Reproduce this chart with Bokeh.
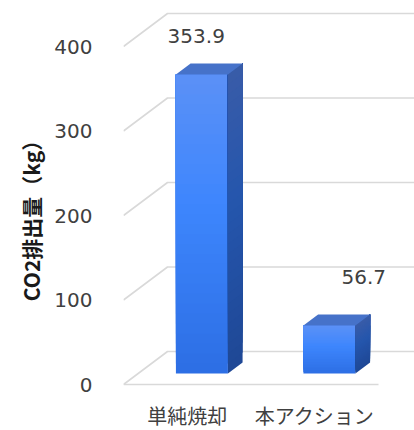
from bokeh.plotting import figure
from bokeh.models import Range1d, FixedTicker, ColumnDataSource
from bokeh.core.properties import value
from bokeh.embed import file_html
from bokeh.resources import INLINE

# ---------------- data ----------------
categories = ["単純焼却", "本アクション"]
emissions = [353.9, 56.7]
y_ticks = [0, 100, 200, 300, 400]
y_title = "CO2排出量（kg）"

# ---------------- layout / style constants (pixels) ----------------
W, H = 414, 430
FRAME_LEFT = 123          # left border in px
PX_PER_CAT = 127.5        # px per category slot
PX_PER_KG = 0.845         # px per kg
ZERO_Y_PX = 384           # canvas y of value 0 on the front plane
DEPTH_DX_PX, DEPTH_DY_PX = 44, 33   # full floor depth in px
BAR_W_PX = 52
LABEL_DX = [9, 49]
LABEL_DY = [-49.5, -60]
GRID_COLOR = "#d9d9d9"
TEXT_COLOR = "#404040"
FRONT_STOPS = [(0.0, (0x2d, 0x6f, 0xe5)), (0.55, (0x3e, 0x86, 0xfd)), (1.0, (0x5c, 0x91, 0xf6))]
SIDE_STOPS = [(0.0, (0x1f, 0x48, 0x96)), (0.55, (0x25, 0x56, 0xad)), (1.0, (0x3a, 0x5c, 0xa8))]
TOP_COLOR = "#4672c9"
N_STRIPES = 30

# ---------------- ranges ----------------
frame_w = W - FRAME_LEFT
frame_h = H
x0 = 0.5
x1 = x0 + frame_w / PX_PER_CAT
y1 = ZERO_Y_PX / PX_PER_KG
y0 = -(frame_h - ZERO_Y_PX) / PX_PER_KG

ddx = DEPTH_DX_PX / PX_PER_CAT    # depth in data units
ddy = DEPTH_DY_PX / PX_PER_KG
bar_w = BAR_W_PX / PX_PER_CAT

p = figure(width=W, height=H, x_range=Range1d(x0, x1), y_range=Range1d(y0, y1),
           output_backend="svg", toolbar_location=None,
           min_border_left=FRAME_LEFT, min_border_right=0,
           min_border_top=0, min_border_bottom=0)
p.outline_line_color = None
p.xgrid.visible = False
p.ygrid.visible = False
p.background_fill_color = "white"
p.border_fill_color = "white"

# ---------------- 3D wall / floor grid ----------------
n_cat = len(categories)
left_edge = 0.5
right_edge = n_cat + 0.5
xs, ys = [], []
for v in y_ticks:
    xs.append([left_edge, left_edge + ddx, x1 + 1])
    ys.append([v, v + ddy, v + ddy])
p.multi_line(xs, ys, line_color=GRID_COLOR, line_width=1.6)
p.line([left_edge, right_edge], [y_ticks[0], y_ticks[0]], line_color=GRID_COLOR, line_width=1.6)


def lerp_color(stops, t):
    for (t_a, c_a), (t_b, c_b) in zip(stops[:-1], stops[1:]):
        if t_a <= t <= t_b:
            f = (t - t_a) / (t_b - t_a) if t_b > t_a else 0
            c = [round(a + (b - a) * f) for a, b in zip(c_a, c_b)]
            return "#%02x%02x%02x" % tuple(c)
    return "#%02x%02x%02x" % stops[-1][1]


# ---------------- bars ----------------
z_front, z_back = 1 / 3, 2 / 3
for i, val in enumerate(emissions):
    cx = i + 1
    ox, oy = ddx * z_front, ddy * z_front
    bx, by = ddx * (z_back - z_front), ddy * (z_back - z_front)
    L = cx - bar_w / 2 + ox
    R = cx + bar_w / 2 + ox
    B = 0 + oy
    T = val + oy
    fl, fr, fb, ft, fc = [], [], [], [], []
    sx, sy, sc = [], [], []
    for k in range(N_STRIPES):
        t = k / N_STRIPES
        b = B + (T - B) * t
        fl.append(L); fr.append(R); fb.append(b); ft.append(T)
        fc.append(lerp_color(FRONT_STOPS, t))
        sx.append([R, R + bx, R + bx, R])
        sy.append([b, b + by, T + by, T])
        sc.append(lerp_color(SIDE_STOPS, t))
    p.quad(left=fl, right=fr, bottom=fb, top=ft, fill_color=fc, line_color=None)
    p.patches(sx, sy, fill_color=sc, line_color=None)
    p.patch([L, L + bx, R + bx, R], [T, T + by, T + by, T], fill_color=TOP_COLOR, line_color=None)

# ---------------- data labels ----------------
lab_src = ColumnDataSource(dict(
    x=[i + 1 for i in range(n_cat)], y=emissions,
    text=[f"{v:.1f}" for v in emissions], dx=LABEL_DX, dy=LABEL_DY))
p.text(x="x", y="y", text="text", x_offset="dx", y_offset="dy", source=lab_src,
       text_align="center", text_baseline="middle", text_font_size="20px",
       text_font=value("DejaVu Sans"), text_color=TEXT_COLOR)

# ---------------- axes ----------------
ya = p.yaxis[0]
ya.ticker = FixedTicker(ticks=y_ticks)
ya.axis_line_color = None
ya.major_tick_line_color = None
ya.minor_tick_line_color = None
ya.major_tick_in = 0
ya.major_tick_out = 0
ya.major_label_standoff = 31
ya.major_label_text_font = "DejaVu Sans"
ya.major_label_text_font_size = "20px"
ya.major_label_text_color = TEXT_COLOR
ya.axis_label = y_title
ya.axis_label_text_font = "Noto Sans CJK JP"
ya.axis_label_text_font_style = "bold"
ya.axis_label_text_font_size = "21px"
ya.axis_label_text_color = "#1a1a1a"
ya.axis_label_standoff = 5

xa = p.xaxis[0]
xa.ticker = FixedTicker(ticks=[i + 1 for i in range(n_cat)])
xa.major_label_overrides = {i + 1: c for i, c in enumerate(categories)}
xa.fixed_location = 0
xa.axis_line_color = None
xa.major_tick_line_color = None
xa.minor_tick_line_color = None
xa.major_tick_in = 0
xa.major_tick_out = 0
xa.major_label_standoff = 16
xa.major_label_text_font = "Noto Sans CJK JP"
xa.major_label_text_font_size = "20px"
xa.major_label_text_color = TEXT_COLOR

open("out.html", "w").write(file_html(p, INLINE))
